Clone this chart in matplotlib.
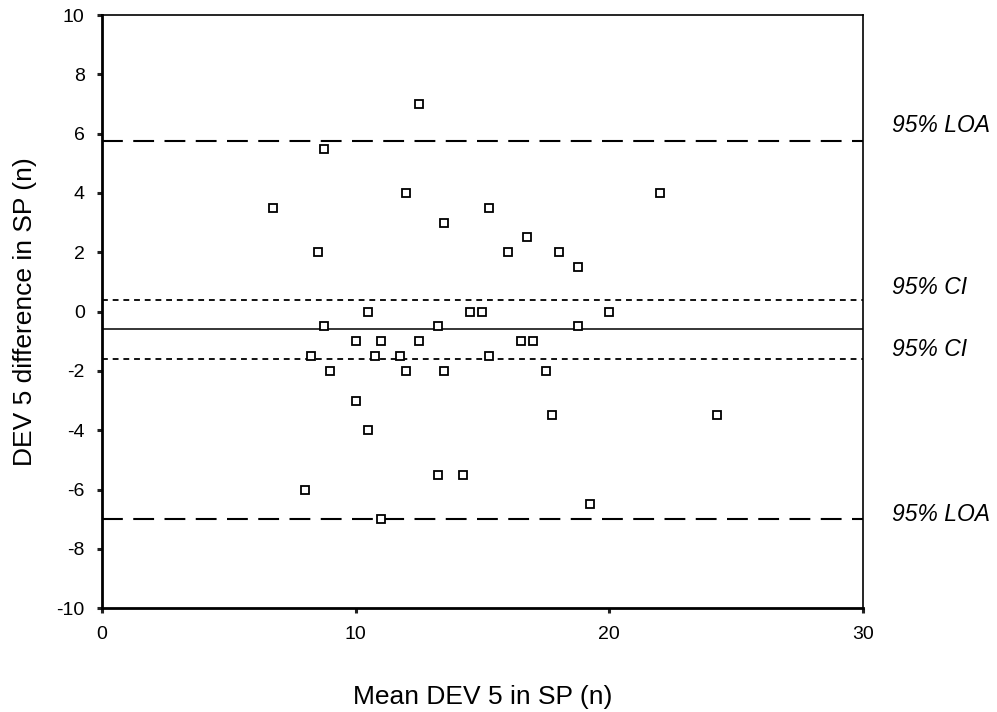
import numpy as np
import matplotlib
matplotlib.use('Agg')
import matplotlib.pyplot as plt

plt.rcParams['font.family'] = ['Liberation Sans', 'DejaVu Sans']
plt.rcParams['lines.scale_dashes'] = False
plt.rcParams['axes.unicode_minus'] = False

# Bland-Altman data
mean_dev5 = [12.5, 8.75, 12, 6.75, 13.5, 15.25, 8.5, 22, 16.75, 16, 18, 18.75,
             10.5, 14.5, 15, 8.75, 13.25, 10, 11, 12.5, 8.25, 10.75, 11.75,
             9, 12, 13.5, 10, 10.5, 13.25, 14.25, 8, 11, 15.25,
             20, 18.75, 16.5, 17, 17.5, 17.75, 24.25, 19.25]
diff_dev5 = [7, 5.5, 4, 3.5, 3, 3.5, 2, 4, 2.5, 2, 2, 1.5,
             0, 0, 0, -0.5, -0.5, -1, -1, -1, -1.5, -1.5, -1.5,
             -2, -2, -2, -3, -4, -5.5, -5.5, -6, -7, -1.5,
             0, -0.5, -1, -1, -2, -3.5, -3.5, -6.5]

mean_diff = -0.6
ci_upper, ci_lower = 0.4, -1.6
loa_upper, loa_lower = 5.75, -7.0

x_ticks = [0, 10, 20, 30]
y_ticks = list(range(-10, 11, 2))

fig = plt.figure(figsize=(9.97, 7.12), dpi=100)
ax = fig.add_axes([0.1023, 0.1457, 0.7633, 0.8332])

ax.axhline(loa_upper, color='black', lw=1.5, linestyle=(0, (15, 7.5)))
ax.axhline(loa_lower, color='black', lw=1.5, linestyle=(0, (15, 7.5)))
ax.axhline(ci_upper, color='black', lw=1.3, linestyle=(0, (4.2, 3.5)))
ax.axhline(ci_lower, color='black', lw=1.3, linestyle=(0, (4.2, 3.5)))
ax.axhline(mean_diff, color='black', lw=1.1)

ax.plot(mean_dev5, diff_dev5, linestyle='none', marker='s', markersize=5.2,
        markerfacecolor='white', markeredgecolor='black', markeredgewidth=1.3,
        zorder=3)

ax.set_xlim(0, 30)
ax.set_ylim(-10, 10)
ax.set_xticks(x_ticks)
ax.set_yticks(y_ticks)
ax.tick_params(direction='out', length=3.5, width=2.2, color='#222222',
               labelsize=14, pad=9)

for side in ['left', 'bottom']:
    ax.spines[side].set_linewidth(2.0)
for side in ['top', 'right']:
    ax.spines[side].set_linewidth(1.2)

ax.set_xlabel('Mean DEV 5 in SP (n)', fontsize=19, va='center')
ax.xaxis.set_label_coords(0.5, -0.149)
ax.set_ylabel('DEV 5 difference in SP (n)', fontsize=19, va='center')
ax.yaxis.set_label_coords(-0.101, 0.5)

trans = ax.get_yaxis_transform()
labels = [('95% LOA', loa_upper, 16), ('95% CI', ci_upper, 12),
          ('95% CI', ci_lower, 10), ('95% LOA', loa_lower, 5)]
for txt, yv, off in labels:
    ax.annotate(txt, xy=(1.038, yv), xycoords=trans, xytext=(0, off),
                textcoords='offset pixels', fontsize=16.5, style='italic',
                ha='left', va='center', annotation_clip=False)

fig.savefig('out.png', dpi=100)
